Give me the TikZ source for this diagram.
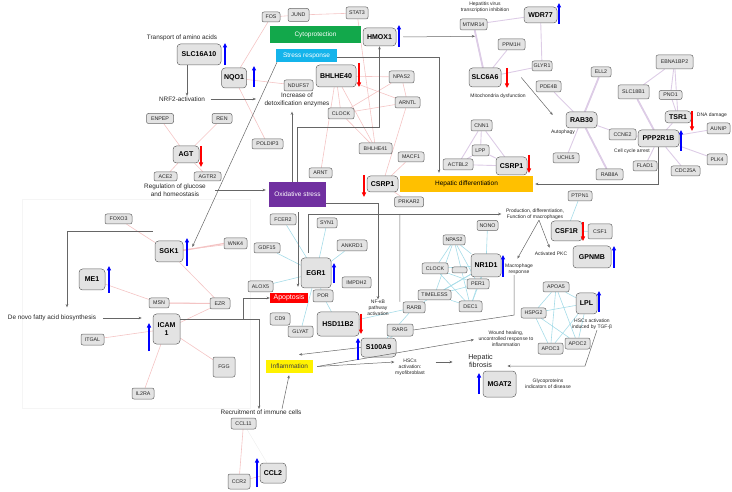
\documentclass[tikz,border=0pt]{standalone}
\usepackage{fontspec}
\setmainfont{Liberation Sans}
\usetikzlibrary{arrows.meta,backgrounds}

\definecolor{cytogreen}{HTML}{12A84B}
\definecolor{stresscyan}{HTML}{14B4EB}
\definecolor{oxpurple}{HTML}{7030A0}
\definecolor{hepamber}{HTML}{FFC000}
\definecolor{edgepink}{HTML}{F4C4C4}
\definecolor{edgecyan}{HTML}{A6DCE8}
\definecolor{edgeviolet}{HTML}{DDCCE6}

\begin{document}
\begin{tikzpicture}[
  x=1pt, y=-1pt,
  font=\fontsize{5.3}{6}\selectfont,
  wh/.style 2 args={minimum width=#1pt, minimum height=#2pt},
  box/.style={rectangle, draw=black!60, fill=black!11, text=black!85,
    rounded corners=2pt, inner sep=0pt, align=center, line width=0.5pt},
  gene/.style={box},
  hub/.style={box, rounded corners=3.5pt, text=black,
    font=\fontsize{7}{8}\selectfont\bfseries},
  effect/.style={rectangle, inner sep=0pt, align=center,
    font=\fontsize{6.5}{7}\selectfont},
  note/.style={align=center, inner sep=0.5pt, text=black!85,
    font=\fontsize{5}{6.2}\selectfont},
  bignote/.style={note, font=\fontsize{6.4}{8}\selectfont},
  flow/.style={-{Stealth[length=3.2pt,width=2.6pt]}, draw=black!60, line width=0.5pt},
  bond/.style={draw=black!60, line width=0.5pt},
  upreg/.style={-{Triangle[length=4.5pt,width=4pt]}, draw=blue, line width=1.3pt},
  downreg/.style={upreg, draw=red},
  linkred/.style={draw=edgepink, line width=0.6pt},
  linkcyan/.style={draw=edgecyan, line width=0.6pt},
  linkviolet/.style={draw=edgeviolet, line width=0.9pt},
  panel/.style={draw=black!4, line width=0.5pt},
]
\useasboundingbox (0,0) rectangle (732,492);

% effects
\node[effect, fill=cytogreen, text=white, wh={91}{17}] (cyto) at (315.5,34.5) {Cytoprotection};
\node[effect, fill=stresscyan, text=white, wh={61}{13}] (stress) at (306.5,55.5) {Stress response};
\node[effect, fill=oxpurple, text=white, wh={57}{25}] (oxid) at (297.5,194.5) {Oxidative stress};
\node[effect, fill=hepamber, wh={133}{16}] (hepdiff) at (466.5,184) {Hepatic differentiation};
\node[effect, fill=red, text=white, wh={38}{10}, font=\fontsize{7}{8}\selectfont] (apop) at (289,298) {Apoptosis};
\node[effect, fill=yellow, text=black!75, wh={47}{13}] (infl) at (289.5,366.5) {Inflammation};

% upper left
\node[bignote] (tAmino) at (182,38) {Transport of amino acids};
\node[hub, wh={44}{21}] (slc16a10) at (199,54.5) {SLC16A10};
\node[hub, wh={25}{20}] (nqo1) at (234,78) {NQO1};
\node[bignote] (tNrf2) at (182,99) {NRF2-activation};
\node[gene, wh={27}{10}] (enpep) at (160,118.5) {ENPEP};
\node[gene, wh={20}{10}] (ren) at (222,118.5) {REN};
\node[hub, wh={26}{17}] (agt) at (186,154.5) {AGT};
\node[gene, wh={23}{9}] (ace2) at (165.5,176.5) {ACE2};
\node[gene, wh={27}{9}] (agtr2) at (207.5,176.5) {AGTR2};
\node[bignote] (tGlucose) at (175,190) {Regulation of glucose\\and homeostasis};

% upper middle
\node[gene, wh={18}{10}] (fos) at (271,17) {FOS};
\node[gene, wh={21}{13}] (jund) at (298.5,15) {JUND};
\node[gene, wh={22}{12}] (stat3) at (357,13) {STAT3};
\node[hub, wh={33}{18}] (hmox1) at (379.5,37) {HMOX1};
\node[hub, wh={40}{22}] (bhlhe40) at (336,76) {BHLHE40};
\node[gene, wh={29}{11}] (ndufs7) at (298.5,85.5) {NDUFS7};
\node[bignote] (tDetox) at (297,100) {Increase of\\detoxification enzymes};
\node[gene, wh={25}{12}] (npasA) at (401.5,77) {NPAS2};
\node[gene, wh={25}{11}] (arntl) at (407.5,102.5) {ARNTL};
\node[gene, wh={26}{11}] (clockA) at (341,113.5) {CLOCK};
\node[gene, wh={31}{10}] (poldip3) at (267.5,144) {POLDIP3};
\node[gene, wh={33}{11}] (bhlhe41) at (375.5,148.5) {BHLHE41};
\node[gene, wh={26}{10}] (macf1) at (411,157) {MACF1};
\node[gene, wh={23}{10}] (arnt) at (320.5,173) {ARNT};
\node[hub, wh={31}{16}] (csrpA) at (382.5,184) {CSRP1};
\node[gene, wh={29}{10}] (prkar2) at (409,202) {PRKAR2};

% upper right
\node[note] (tHepatitis) at (485,7) {Hepatitis virus\\transcription inhibition};
\node[gene, wh={27}{11}] (mtmr14) at (473.5,24.5) {MTMR14};
\node[hub, wh={33}{16}] (wdr77) at (540.5,15) {WDR77};
\node[gene, wh={27}{11}] (ppm1h) at (511.5,44.5) {PPM1H};
\node[gene, wh={20}{10}] (glyr1) at (542,66) {GLYR1};
\node[hub, wh={32}{19}] (slc6a6) at (485,77.5) {SLC6A6};
\node[note] (tMito) at (498,96) {Mitochondria dysfunction};
\node[gene, wh={20}{10}] (ell2) at (601,72) {ELL2};
\node[gene, wh={25}{11}] (pde4b) at (548.5,86.5) {PDE4B};
\node[hub, wh={31}{16}] (rab30) at (581.5,120) {RAB30};
\node[note] (tAuto) at (563,132) {Autophagy};
\node[gene, wh={31}{14}] (slc18b1) at (633.5,92) {SLC18B1};
\node[gene, wh={37}{14}] (ebna1bp2) at (674.5,62) {EBNA1BP2};
\node[gene, wh={23}{9}] (pno1) at (670.5,95) {PNO1};
\node[hub, wh={26}{12}] (tsr1) at (678,117) {TSR1};
\node[note] (tDna) at (712,115) {DNA damage};
\node[gene, wh={23}{11}] (aunip) at (718.5,128.5) {AUNIP};
\node[hub, wh={41}{17}] (ppp2r1b) at (658.5,138.5) {PPP2R1B};
\node[note] (tCell) at (632,151) {Cell cycle arrest};
\node[gene, wh={27}{11}] (ccne2) at (622.5,134.5) {CCNE2};
\node[gene, wh={26}{10}] (uchl5) at (566,158) {UCHL5};
\node[gene, wh={24}{10}] (flad1) at (645,166) {FLAD1};
\node[gene, wh={20}{11}] (plk4) at (717,159.5) {PLK4};
\node[gene, wh={27}{11}] (rab8a) at (609.5,174.5) {RAB8A};
\node[gene, wh={29}{10}] (cdc25a) at (685.5,171) {CDC25A};
\node[gene, wh={21}{11}] (cnn1) at (481.5,125.5) {CNN1};
\node[gene, wh={17}{11}] (lpp) at (480.5,150.5) {LPP};
\node[gene, wh={30}{11}] (actbl2) at (458,164.5) {ACTBL2};
\node[hub, wh={31}{18}] (csrpB) at (511.5,166) {CSRP1};

% left
\node[gene, wh={27}{10}] (foxo3) at (118.5,219) {FOXO3};
\node[hub, wh={28}{21}] (sgk1) at (169,251.5) {SGK1};
\node[gene, wh={23}{11}] (wnk4) at (235.5,243.5) {WNK4};
\node[hub, wh={26}{21}] (me1) at (92,279.5) {ME1};
\node[gene, wh={20}{10}] (msn) at (159,303) {MSN};
\node[gene, wh={20}{11}] (ezr) at (220,303.5) {EZR};
\node[bignote] (tDenovo) at (52,318) {De novo fatty acid biosynthesis};
\node[hub, wh={27}{30}] (icam) at (166.5,329) {ICAM\\1};
\node[gene, wh={23}{11}] (itgal) at (92.5,339.5) {ITGAL};
\node[gene, wh={22}{20}] (fgg) at (224,367) {FGG};
\node[gene, wh={22}{11}] (il2ra) at (143,393.5) {IL2RA};
\node[bignote] (tRecruit) at (261,412) {Recruitment of immune cells};
\node[gene, wh={25}{11}] (ccl11) at (243.5,423.5) {CCL11};
\node[gene, wh={22}{15}] (ccr2) at (239,481.5) {CCR2};
\node[hub, wh={26}{20}] (ccl2) at (273,473) {CCL2};

% middle
\node[gene, wh={26}{11}] (fcer2) at (283,219.5) {FCER2};
\node[gene, wh={20}{10}] (syn1) at (327,223) {SYN1};
\node[gene, wh={30}{11}] (ankrd1) at (352,245.5) {ANKRD1};
\node[gene, wh={26}{10}] (gdf15) at (267,248) {GDF15};
\node[hub, wh={30}{30}] (egr1) at (316,273) {EGR1};
\node[gene, wh={29}{11}] (impdh2) at (356.5,282.5) {IMPDH2};
\node[gene, wh={25}{11}] (alox5) at (260.5,286.5) {ALOX5};
\node[gene, wh={20}{12}] (por) at (323,296) {POR};
\node[gene, wh={20}{12}] (cd9) at (280,319) {CD9};
\node[gene, wh={25}{11}] (glyat) at (300.5,331.5) {GLYAT};
\node[hub, wh={42}{24}] (hsd11b2) at (338,324) {HSD11B2};
\node[note] (tNfkb) at (378,308) {NF-κB\\pathway\\activation};
\node[gene, wh={26}{12}] (rarg) at (400,330) {RARG};
\node[gene, wh={22}{11}] (rarb) at (414,307.5) {RARB};
\node[hub, wh={35}{19}] (s100a9) at (378.5,347.5) {S100A9};
\node[note] (tHsc) at (410,367) {HSCs\\activation:\\myofibroblast};
\node[note, font=\fontsize{7.2}{8}\selectfont] (tHepfib) at (480.5,361) {Hepatic\\fibrosis};
\node[note] (tWound) at (506,339) {Wound healing,\\uncontrolled response to\\inflammation};
\node[hub, wh={33}{26}] (mgat2) at (499.5,384) {MGAT2};
\node[note] (tGlyco) at (548,384) {Glycoproteins\\indicators of disease};

% clock cluster and macrophages
\node[gene, wh={21}{10}] (nono) at (487.5,225.5) {NONO};
\node[gene, wh={22}{10}] (npasB) at (454,240) {NPAS2};
\node[hub, wh={30}{23}] (nr1d1) at (486,265.5) {NR1D1};
\node[note] (tMacro) at (519,269) {Macrophage\\response};
\node[gene, wh={26}{11}] (clockB) at (435,268.5) {CLOCK};
\node[gene, wh={15}{6}] (cryx) at (459.5,270) {};
\node[gene, wh={22}{10}] (per1) at (478,284) {PER1};
\node[gene, wh={33}{10}] (timeless) at (434.5,295) {TIMELESS};
\node[gene, wh={23}{11}] (dec1) at (470.5,306.5) {DEC1};
\node[note] (tProd) at (535,214) {Production, differentiation,\\Function of macrophages};
\node[note] (tPkc) at (551,254) {Activated PKC};
\node[gene, wh={24}{10}] (ptpn1) at (580,196) {PTPN1};
\node[hub, wh={31}{20}] (csf1r) at (566.5,231) {CSF1R};
\node[gene, wh={24}{15}] (csf1) at (600,231.5) {CSF1};
\node[hub, wh={38}{22}] (gpnmb) at (592,257) {GPNMB};
\node[gene, wh={26}{10}] (apoa5) at (556,287) {APOA5};
\node[hub, wh={21}{21}] (lpl) at (586.5,303.5) {LPL};
\node[gene, wh={25}{10}] (hspg2) at (533.5,313) {HSPG2};
\node[note] (tTgf) at (592,324) {HSCs activation\\induced by TGF-β};
\node[gene, wh={25}{11}] (apoc3) at (550.5,348.5) {APOC3};
\node[gene, wh={25}{11}] (apoc2) at (577.5,343.5) {APOC2};
\coordinate (kink) at (585,366);

% network links
\begin{scope}[on background layer]
  \draw[panel] (22,199) rectangle (250,408);
  \foreach \a/\b in {fos/jund, jund/stat3, nqo1/fos, nqo1/ndufs7, nqo1/poldip3,
      stat3/bhlhe41, bhlhe40/npasA, bhlhe40/arntl, bhlhe40/clockA, bhlhe40/bhlhe41,
      npasA/arntl, npasA/clockA, arntl/clockA, clockA/bhlhe41, bhlhe40/arnt,
      macf1/csrpA, prkar2/csrpA, arntl/csrpA, enpep/agt, ren/agt, agt/ace2, agt/agtr2,
      foxo3/sgk1, sgk1/wnk4, sgk1/ezr, me1/msn, msn/ezr, ezr/icam,
      icam/itgal, icam/fgg, icam/il2ra, ccl11/ccr2, ccr2/ccl2}
    \draw[linkred] (\a) -- (\b);
  \draw[linkred, line width=1.2pt] ([yshift=1pt]sgk1.east) -- (wnk4.west);
  \draw[linkred, line width=1pt] (msn.east) -- (ezr.west);
  \draw[draw=black!7] (ccl11) -- (ccl2);
  \foreach \a/\b in {egr1/fcer2, egr1/syn1, egr1/ankrd1, egr1/gdf15, egr1/alox5,
      egr1/por, egr1/glyat, por/hsd11b2, hsd11b2/rarb, s100a9/rarb, s100a9/rarg,
      rarb/nr1d1, npasB/nr1d1, npasB/clockB, npasB/per1, npasB/timeless, npasB/dec1,
      clockB/nr1d1, clockB/per1, clockB/dec1, timeless/nr1d1, timeless/per1,
      timeless/dec1, nr1d1/nono, nr1d1/per1, nr1d1/dec1, per1/dec1,
      ptpn1/csf1r, csf1r/csf1, apoa5/hspg2, apoa5/apoc3, apoa5/apoc2, apoa5/lpl,
      hspg2/apoc3, hspg2/apoc2, hspg2/lpl, lpl/apoc2, lpl/apoc3}
    \draw[linkcyan] (\a) -- (\b);
  \foreach \a/\b in {mtmr14/slc6a6, ppm1h/slc6a6, glyr1/slc6a6, wdr77/glyr1,
      wdr77/mtmr14, pde4b/rab30, ell2/rab30, rab30/uchl5, rab30/ccne2, rab30/rab8a,
      slc18b1/ppp2r1b, ebna1bp2/slc18b1, ebna1bp2/pno1, ebna1bp2/tsr1, pno1/tsr1,
      tsr1/ppp2r1b, ppp2r1b/aunip, ppp2r1b/plk4, ppp2r1b/cdc25a, ppp2r1b/flad1,
      ppp2r1b/ccne2, cnn1/lpp, cnn1/actbl2, cnn1/csrpB, lpp/actbl2, lpp/csrpB,
      actbl2/csrpB}
    \draw[linkviolet] (\a) -- (\b);
  \draw[linkviolet, line width=1.8pt] (mtmr14) -- (slc6a6);
  \draw[linkviolet, line width=1.8pt] (ell2) -- (rab30) -- (rab8a);
  \draw[linkviolet, line width=1.8pt] (slc18b1) -- (ppp2r1b);
\end{scope}

% processes
\draw[flow] ([xshift=-12pt]slc16a10.south) -- ([xshift=-12pt]slc16a10.south |- tNrf2.north);
\draw[flow, shorten <=5pt, shorten >=8pt] (tNrf2.east) -- (tNrf2.east -| tDetox.west);
\draw[flow] ([xshift=-29.5pt]stress.south) -- ([shift={(9pt,4.5pt)}]sgk1.east);
\draw[flow, shorten <=9pt, shorten >=3pt] (tGlucose.east) -- (tGlucose.east -| oxid.west);
\draw[flow, shorten >=7pt] ([shift={(-2pt,9pt)}]sgk1.north west) -| ([xshift=15pt]tDenovo.north);
\draw[flow, shorten <=6pt, shorten >=11pt] (tDenovo.east) -- (tDenovo.east -| icam.west);
\draw[flow] ([yshift=10pt]icam.east) -- ++(63,0) |- (apop.west);
\draw[flow] ([yshift=10pt]icam.east) -| ([xshift=-2pt]tRecruit.north);
\draw[flow, shorten >=2pt] ([xshift=21pt]tRecruit.north) -- (infl.south);
\draw[flow, shorten >=4pt] ([xshift=-5.5pt]oxid.north) -- ([xshift=-5.5pt]oxid.north |- tDetox.south);
\draw[flow] (oxid.north) |- ([yshift=-81pt]hmox1.south) -- (hmox1.south);
\draw[flow, shorten <=5pt, shorten >=6pt] ([xshift=0.5pt]oxid.south) -- ([xshift=0.5pt]oxid.south |- apop.north);
\draw[flow] ([yshift=-8.5pt]oxid.east) -| (tNfkb.north);
\draw[flow, shorten >=3pt] ([yshift=-1.5pt]stress.east) -| ([xshift=-27.5pt]hepdiff.north);
\draw[flow, shorten <=5pt, shorten >=4pt] ([xshift=-8pt]egr1.north) |- (tProd.west);
\draw[bond] (rarg.north |- tProd.west) -- ([xshift=-3pt]rarb.north west);
\draw[flow] ([xshift=7pt]hmox1.east) -- ([shift={(1.5pt,-6pt)}]mtmr14.south);
\draw[flow] ([xshift=20pt]slc6a6.east) -- ([shift={(-13pt,5pt)}]rab30.west);
\draw[flow, shorten >=2pt] (ppp2r1b.south) |- (hepdiff.east);
\draw[flow, shorten >=5pt] ([xshift=4pt]tProd.south) -- ([xshift=-4pt]tMacro.north);
\draw[flow, shorten >=4pt] ([xshift=4pt]tProd.south) -- (tPkc.north);
\draw[bond] ([xshift=-5pt]tMacro.south) -- ++(0,40) -- (rarg.east);
\draw[flow, shorten >=1pt] (s100a9.west) -- ([shift={(8.5pt,5pt)}]infl.north);
\draw[flow] ([xshift=4pt]infl.east) -- ([yshift=5pt]tHsc.west);
\draw[flow, shorten >=4pt] ([xshift=4pt]infl.east) -- (tWound.west);
\draw[flow, shorten <=10pt, shorten >=15pt] ([yshift=5pt]tHsc.east) -- ([yshift=5pt]tHsc.east -| tHepfib.west);
\draw[flow, shorten >=14pt] ([xshift=5pt]tTgf.south) -- (kink) -- (kink -| tHepfib.east);

% expression changes
\foreach \x/\ya/\yb in {225/65/43, 254/87/66, 399/47/25, 559/24/3, 187/266/238,
    109/293/266, 149/351/323, 334/283/263, 358/360/338, 257/487/458, 503/277/255,
    614/268/246, 599/312/291, 479/394/373, 681/151/130}
  \draw[upreg] (\x,\ya) -- (\x,\yb);
\foreach \x/\ya/\yb in {201/146/167, 359/63/87, 507/68/88, 364/175/197,
    529/155/173, 361/314/334, 583/222/241, 692/111/131}
  \draw[downreg] (\x,\ya) -- (\x,\yb);
\end{tikzpicture}
\end{document}
